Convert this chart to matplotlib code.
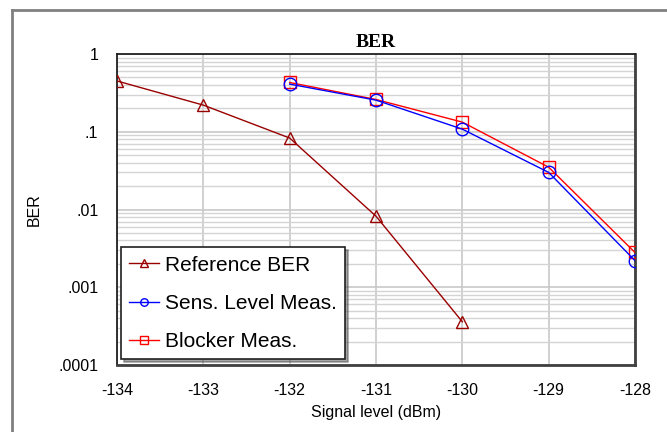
import numpy as np
import matplotlib
matplotlib.use('agg')
import matplotlib.pyplot as plt
from matplotlib.ticker import FixedLocator, LogLocator, NullFormatter
from matplotlib.lines import Line2D

plt.rcParams['font.family'] = ['Liberation Sans', 'DejaVu Sans']

# data
ref_x = [-134, -133, -132, -131, -130]
ref_ber = [0.45, 0.22, 0.083, 0.0082, 0.00036]

sens_x = [-132, -131, -130, -129, -128]
sens_ber = [0.41, 0.255, 0.108, 0.030, 0.0022]

blk_x = [-132, -131, -130, -129, -128]
blk_ber = [0.43, 0.26, 0.133, 0.035, 0.0028]

xticks = [-134, -133, -132, -131, -130, -129, -128]
yticks = [1, 0.1, 0.01, 0.001, 0.0001]
ytick_labels = ['1', '.1', '.01', '.001', '.0001']

fig = plt.figure(figsize=(6.67, 4.32), dpi=100)
ax = fig.add_axes([117 / 667, 1 - 365 / 432, 518 / 667, 311 / 432])

# outer frame: only top and left lines
fig.add_artist(Line2D([12 / 667, 1], [1 - 10 / 432, 1 - 10 / 432], color='#808080', lw=2))
fig.add_artist(Line2D([12 / 667, 12 / 667], [0, 1 - 10 / 432], color='#808080', lw=2))

ax.set_yscale('log')
ax.set_xlim(-134, -128)
ax.set_ylim(1e-4, 1)

ax.plot(ref_x, ref_ber, color='#990000', lw=1, marker='^', ms=9, mfc='none',
        mec='#990000', label='Reference BER', zorder=3)
ax.plot(sens_x, sens_ber, color='#0000ff', lw=1, marker='o', ms=9, mfc='none',
        mec='#0000ff', label='Sens. Level Meas.', zorder=4)
ax.plot(blk_x, blk_ber, color='#ff0000', lw=1, marker='s', ms=9, mfc='none',
        mec='#ff0000', label='Blocker Meas.', zorder=3)

ax.xaxis.set_major_locator(FixedLocator(xticks))
ax.set_xticklabels([str(v) for v in xticks])
ax.yaxis.set_major_locator(FixedLocator(yticks))
ax.set_yticklabels(ytick_labels)
ax.yaxis.set_minor_locator(LogLocator(base=10, subs=np.arange(2, 10)))
ax.yaxis.set_minor_formatter(NullFormatter())

ax.grid(True, which='major', color='#c8c8c8', lw=1.2)
ax.grid(True, which='minor', axis='y', color='#d4d4d4', lw=1)
ax.set_axisbelow(True)
ax.tick_params(which='both', length=0, labelsize=11.5)
ax.tick_params(axis='y', pad=13.5)
ax.tick_params(axis='x', pad=13)

for side in ['top', 'left']:
    ax.spines[side].set_color('#202020')
    ax.spines[side].set_linewidth(1.3)
for side in ['bottom', 'right']:
    ax.spines[side].set_color('#404040')
    ax.spines[side].set_linewidth(2)

ax.set_title('BER', fontsize=14, fontweight='bold', family='Liberation Serif', pad=5)
ax.set_xlabel('Signal level (dBm)', fontsize=11.5, labelpad=5)
ax.set_ylabel('BER', fontsize=11.5, labelpad=12)

leg = ax.legend(loc='lower left', bbox_to_anchor=(0.008, 0.018), fontsize=15,
                frameon=True, fancybox=False, shadow=True, handlelength=1.4,
                handletextpad=0.3, borderpad=0.4, borderaxespad=0,
                labelspacing=0.92, markerscale=0.6)
leg.get_frame().set_edgecolor('#202020')
leg.get_frame().set_linewidth(1.2)

fig.savefig('out.png', dpi=100)
